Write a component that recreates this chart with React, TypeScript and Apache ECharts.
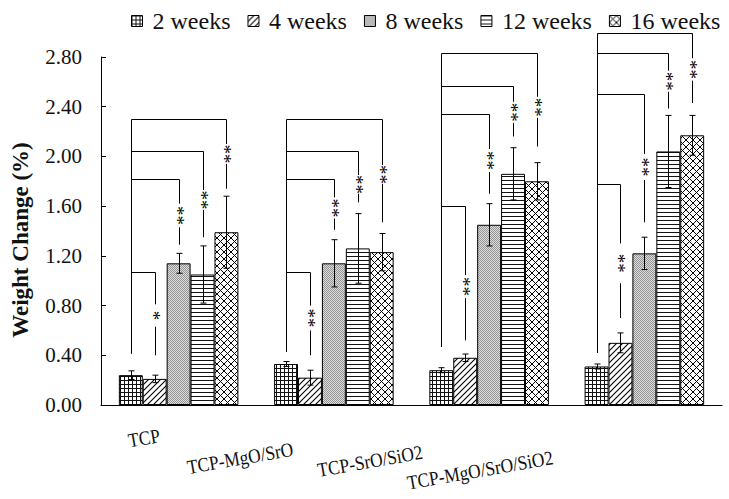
import React, { useEffect, useRef } from 'react';
import * as echarts from 'echarts';

const categories = ['TCP', 'TCP-MgO/SrO', 'TCP-SrO/SiO2', 'TCP-MgO/SrO/SiO2'];
const weeks = ['2 weeks', '4 weeks', '8 weeks', '12 weeks', '16 weeks'];

// mean weight change (%) per week, one value per category
const week2 = [0.24, 0.33, 0.28, 0.31];
const week4 = [0.21, 0.22, 0.38, 0.50];
const week8 = [1.14, 1.14, 1.45, 1.22];
const week12 = [1.05, 1.26, 1.86, 2.04];
const week16 = [1.39, 1.23, 1.80, 2.17];

// standard deviations
const err2 = [0.035, 0.02, 0.02, 0.02];
const err4 = [0.03, 0.06, 0.03, 0.08];
const err8 = [0.08, 0.19, 0.17, 0.13];
const err12 = [0.23, 0.28, 0.21, 0.29];
const err16 = [0.29, 0.15, 0.15, 0.16];

// y axis
const yMin = 0;
const yMax = 2.8;
const yStep = 0.4;

// significance brackets (2 weeks vs 4/8/12/16 weeks), in data units
const bracketBase = [0.415, 0.43, 0.47, 0.42];
const bracketLevel = [
  [1.07, 1.82, 2.04, 2.30],
  [1.07, 1.82, 2.04, 2.30],
  [1.60, 2.345, 2.57, 2.83],
  [1.775, 2.50, 2.83, 2.99],
];
const bracketUpperEnd = [
  [0.81, 1.62, 1.73, 2.10],
  [0.80, 1.67, 1.85, 1.93],
  [1.045, 2.06, 2.44, 2.48],
  [1.30, 2.02, 2.69, 2.79],
];
const bracketLowerStart = [
  [0.63, 1.43, 1.57, 1.94],
  [0.60, 1.50, 1.70, 1.78],
  [0.86, 1.875, 2.27, 2.31],
  [0.98, 1.81, 2.52, 2.61],
];
const bracketLowerEnd = [
  [0.40, 1.29, 1.35, 1.74],
  [0.40, 1.41, 1.63, 1.47],
  [0.52, 1.70, 2.16, 2.08],
  [0.70, 1.47, 2.385, 2.43],
];
const bracketStars = [
  ['*', '**', '**', '**'],
  ['**', '**', '**', '**'],
  ['**', '**', '**', '**'],
  ['**', '**', '**', '**'],
];

const SERIF = "'Times New Roman'";
const BAR_FRAC = 0.154;

function makePattern(kind: string) {
  const c = document.createElement('canvas');
  let w = 4;
  let h = 4;
  if (kind === 'diag') { w = 6; h = 6; }
  if (kind === 'cross') { w = 7; h = 7; }
  if (kind === 'dots') { w = 2; h = 2; }
  c.width = w;
  c.height = h;
  const ctx = c.getContext('2d')!;
  ctx.fillStyle = '#fff';
  ctx.fillRect(0, 0, w, h);
  ctx.strokeStyle = '#000';
  ctx.fillStyle = '#000';
  if (kind === 'grid') {
    ctx.fillStyle = '#111';
    ctx.fillRect(0, 0, w, 1);
    ctx.fillRect(0, 0, 1, h);
  } else if (kind === 'horiz') {
    ctx.fillStyle = '#111';
    ctx.fillRect(0, 0, w, 1);
  } else if (kind === 'dots') {
    ctx.fillStyle = '#dcdcdc';
    ctx.fillRect(0, 0, 2, 2);
    ctx.fillStyle = '#959595';
    ctx.fillRect(0, 0, 1, 1);
    ctx.fillRect(1, 1, 1, 1);
  } else if (kind === 'diag') {
    ctx.lineWidth = 1.1;
    ctx.beginPath();
    ctx.moveTo(-1, h + 1); ctx.lineTo(w + 1, -1);
    ctx.moveTo(-1, 1); ctx.lineTo(1, -1);
    ctx.moveTo(w - 1, h + 1); ctx.lineTo(w + 1, h - 1);
    ctx.stroke();
  } else if (kind === 'cross') {
    ctx.lineWidth = 1;
    ctx.beginPath();
    ctx.moveTo(-1, h + 1); ctx.lineTo(w + 1, -1);
    ctx.moveTo(-1, -1); ctx.lineTo(w + 1, h + 1);
    ctx.stroke();
  }
  return { image: c, repeat: 'repeat', imageWidth: w, imageHeight: h };
}

export default function App() {
  const ref = useRef<HTMLDivElement>(null);

  useEffect(() => {
    if (!ref.current) return;
    const chart = echarts.init(ref.current, undefined, { renderer: 'svg' });

    const values = [week2, week4, week8, week12, week16];
    const errs = [err2, err4, err8, err12, err16];
    const kinds = ['grid', 'diag', 'dots', 'horiz', 'cross'];

    const barSeries = weeks.map((name, i) => ({
      type: 'bar',
      name,
      data: values[i],
      barWidth: (BAR_FRAC * 100).toFixed(1) + '%',
      barGap: '0%',
      itemStyle: { color: makePattern(kinds[i]), borderColor: '#000', borderWidth: 1 },
      emphasis: { disabled: true },
    }));

    const errData: number[][] = [];
    for (let w = 0; w < weeks.length; w++) {
      for (let c = 0; c < categories.length; c++) {
        errData.push([c, w, values[w][c], errs[w][c]]);
      }
    }

    const lineStyle = { stroke: '#000', lineWidth: 1 };

    const errSeries = {
      type: 'custom',
      name: 'errors',
      data: errData,
      encode: { x: 0, y: 2 },
      z: 5,
      renderItem: (params: any, api: any) => {
        const cat = api.value(0);
        const wk = api.value(1);
        const v = api.value(2);
        const e = api.value(3);
        const band = api.size([1, 0])[0];
        const bw = band * BAR_FRAC;
        const c = api.coord([cat, v]);
        const x = Math.round(c[0] + (wk - 2) * bw) + 0.5;
        const yt = api.coord([cat, v + e])[1];
        const yb = api.coord([cat, v - e])[1];
        const cap = 3;
        return {
          type: 'group',
          children: [
            { type: 'line', shape: { x1: x, y1: yt, x2: x, y2: yb }, style: lineStyle },
            { type: 'line', shape: { x1: x - cap, y1: yt, x2: x + cap, y2: yt }, style: lineStyle },
            { type: 'line', shape: { x1: x - cap, y1: yb, x2: x + cap, y2: yb }, style: lineStyle },
          ],
        };
      },
    };

    const brData: any[] = [];
    for (let c = 0; c < categories.length; c++) {
      for (let t = 0; t < 4; t++) {
        brData.push([
          c, t + 1,
          bracketLevel[c][t], bracketUpperEnd[c][t], bracketLowerStart[c][t],
          bracketLowerEnd[c][t], bracketStars[c][t].length, bracketBase[c],
        ]);
      }
    }

    const bracketSeries = {
      type: 'custom',
      name: 'brackets',
      data: brData,
      encode: { x: 0, y: 2 },
      clip: false,
      z: 6,
      renderItem: (params: any, api: any) => {
        const cat = api.value(0);
        const t = api.value(1);
        const level = api.value(2);
        const upEnd = api.value(3);
        const loStart = api.value(4);
        const loEnd = api.value(5);
        const nStars = api.value(6);
        const base = api.value(7);
        const band = api.size([1, 0])[0];
        const bw = band * BAR_FRAC;
        const cx = api.coord([cat, 0])[0];
        const x0 = Math.round(cx - 2 * bw) + 0.5;
        const xt = Math.round(cx + (t - 2) * bw) + 0.5;
        const yL = Math.round(api.coord([cat, level])[1]) + 0.5;
        const yB = api.coord([cat, base])[1];
        const yU = api.coord([cat, upEnd])[1];
        const yS = api.coord([cat, loStart])[1];
        const yE = api.coord([cat, loEnd])[1];
        const mid = (yU + yS) / 2;
        const star = '*'.repeat(nStars);
        return {
          type: 'group',
          children: [
            { type: 'line', shape: { x1: x0, y1: yB, x2: x0, y2: yL }, style: lineStyle },
            { type: 'line', shape: { x1: x0, y1: yL, x2: xt, y2: yL }, style: lineStyle },
            { type: 'line', shape: { x1: xt, y1: yL, x2: xt, y2: yU }, style: lineStyle },
            { type: 'line', shape: { x1: xt, y1: yS, x2: xt, y2: yE }, style: lineStyle },
            {
              type: 'text',
              x: xt - 2,
              y: mid,
              rotation: -Math.PI / 2,
              style: {
                text: star, fontSize: 19, fontFamily: SERIF, fill: '#000',
                align: 'center', verticalAlign: 'middle',
              },
            },
          ],
        };
      },
    };

    const labelPos = [
      [144, 438],
      [240, 458],
      [370, 461],
      [480, 470],
    ];

    const option: any = {
      animation: false,
      grid: { left: 101, right: 7, top: 57, bottom: 94, containLabel: false },
      legend: {
        data: weeks,
        left: 126,
        top: 4,
        icon: 'rect',
        itemWidth: 11,
        itemHeight: 11,
        itemGap: 17,
        selectedMode: false,
        itemStyle: { borderColor: '#000', borderWidth: 1 },
        textStyle: { fontSize: 24, fontFamily: SERIF, color: '#111', padding: [0, 0, 0, 5] },
      },
      xAxis: {
        type: 'category',
        data: categories,
        axisLine: { show: true, lineStyle: { color: '#000', width: 1 } },
        axisTick: { show: false },
        axisLabel: { show: false },
        splitLine: { show: false },
      },
      yAxis: {
        type: 'value',
        min: yMin,
        max: yMax,
        interval: yStep,
        axisLine: { show: true, lineStyle: { color: '#000', width: 1 } },
        axisTick: { show: true, inside: true, length: 5, lineStyle: { color: '#000' } },
        splitLine: { show: false },
        axisLabel: {
          formatter: (v: number) => v.toFixed(2),
          fontSize: 21,
          fontFamily: SERIF,
          color: '#111',
          margin: 19,
        },
      },
      graphic: [
        {
          type: 'text',
          x: 20,
          y: 240,
          rotation: Math.PI / 2,
          style: {
            text: 'Weight Change (%)',
            fontSize: 23,
            fontWeight: 'bold',
            fontFamily: SERIF,
            fill: '#111',
            textAlign: 'center',
            textVerticalAlign: 'middle',
          },
        },
        ...categories.map((name, i) => ({
          type: 'text',
          x: labelPos[i][0],
          y: labelPos[i][1],
          rotation: (10 * Math.PI) / 180,
          scaleX: 0.87,
          style: {
            text: name,
            fontSize: 20,
            fontFamily: SERIF,
            fill: '#111',
            textAlign: 'center',
            textVerticalAlign: 'middle',
          },
        })),
      ],
      series: [...barSeries, errSeries, bracketSeries],
    };

    chart.setOption(option);
    return () => chart.dispose();
  }, []);

  return (
    <div
      ref={ref}
      style={{ position: 'absolute', left: 0, top: 0, width: 729, height: 499, background: '#fff' }}
    />
  );
}
